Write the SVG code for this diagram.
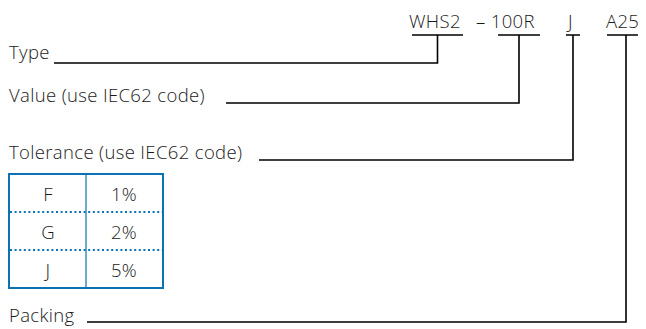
<svg xmlns="http://www.w3.org/2000/svg" width="646" height="329" viewBox="0 0 646 329">
<style>
text{font-family:"Open Sans","Noto Sans","DejaVu Sans",sans-serif;font-size:18.5px;font-weight:350;letter-spacing:0.35px;fill:#1a1a1a}
.c{text-anchor:middle}
.ln{fill:none;stroke:#000;stroke-width:1.6}
.tb{fill:none;stroke:#0a72b5;stroke-width:2}
.tv{stroke:#0a72b5;stroke-width:1.2}
.dot{stroke:#0a72b5;stroke-width:2;stroke-dasharray:2 2.6}
</style>
<rect width="646" height="329" fill="#fff"/>
<g id="code">
<text x="409" y="28">WHS2</text>
<text x="476" y="28">– 100R</text>
<text x="568" y="28">J</text>
<text x="606" y="28">A25</text>
</g>
<g id="connectors">
<path class="ln" d="M412 35H463M437.5 35V63H54"/>
<path class="ln" d="M498 35H540M519 35V103H226"/>
<path class="ln" d="M566 35H580M573 35V160H259"/>
<path class="ln" d="M607 35H638M626 35V322H87"/>
</g>
<g id="type"><text x="9" y="59">Type</text></g>
<g id="value"><text x="9" y="102">Value (use IEC62 code)</text></g>
<g id="tolerance"><text x="9" y="159">Tolerance (use IEC62 code)</text></g>
<g id="packing"><text x="9" y="322">Packing</text></g>
<g id="table">
<rect class="tb" x="9" y="174" width="154" height="114"/>
<line class="tv" x1="86" y1="174" x2="86" y2="288"/>
<line class="dot" x1="10" y1="212" x2="162" y2="212"/>
<line class="dot" x1="10" y1="250" x2="162" y2="250"/>
<text class="c" x="48" y="201">F</text>
<text class="c" x="124" y="201">1%</text>
<text class="c" x="48" y="239">G</text>
<text class="c" x="124" y="239">2%</text>
<text class="c" x="48" y="277">J</text>
<text class="c" x="124" y="277">5%</text>
</g>
</svg>
